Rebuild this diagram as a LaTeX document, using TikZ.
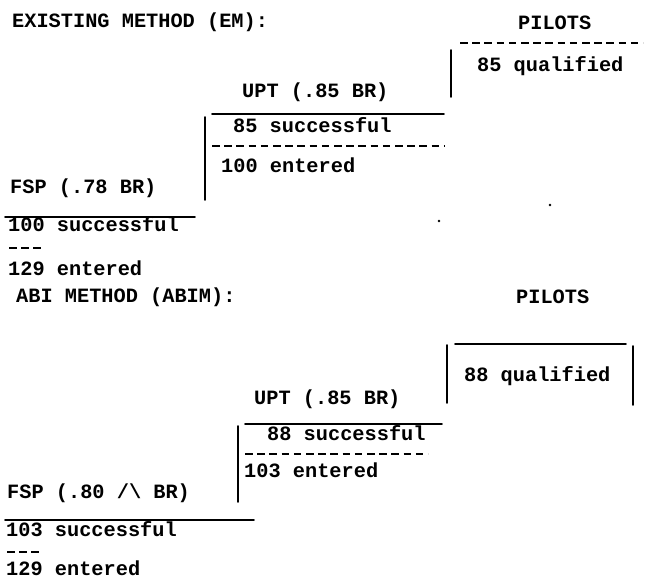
\documentclass[tikz,border=0pt]{standalone}
\usepackage{fontspec}
\newfontfamily\twfont{Liberation Mono}
\begin{document}
\begin{tikzpicture}[x=1pt,y=-1pt,
  txt/.style={anchor=base west, inner sep=0pt, font=\twfont\bfseries\fontsize{20.3}{24}\selectfont},
  rule/.style={line width=1.6pt, line cap=round},
  typedash/.style={line width=1.8pt, dash pattern=on 7.6pt off 4.6pt},
  speck/.style={fill=black}]
\useasboundingbox (0,0) rectangle (645,584);
% ---------------- EXISTING METHOD ----------------
\node[txt] (emtitle) at (12,27) {EXISTING METHOD (EM):};
\node[txt] (empilots) at (518,29) {PILOTS};
\node[txt] (emqual) at (477,71) {85 qualified};
\node[txt] (emupt) at (242,97) {UPT (.85 BR)};
\node[txt] (emusucc) at (233,132) {85 successful};
\node[txt] (emuent) at (221,172) {100 entered};
\node[txt] (emfsp) at (10,193) {FSP (.78 BR)};
\node[txt] (emfsucc) at (8,231) {100 successful};
\node[txt] (emfent) at (8,275) {129 entered};
\draw[typedash] (460,43) -- (643,43);
\draw[typedash] (212,146) -- (444,146);
\draw[typedash] (9,248) -- (42,248);
\draw[rule] (451,50) -- (451,97);
\draw[rule] (212,114) -- (444,114);
\draw[rule] (205,117) -- (205,200);
\draw[rule] (5,217) -- (195,217);
\fill[speck] (439,221) circle (1.3);
\fill[speck] (550,205) circle (1.3);
% ---------------- ABI METHOD ----------------
\node[txt] (abtitle) at (16,302) {ABI METHOD (ABIM):};
\node[txt] (abpilots) at (516,303) {PILOTS};
\node[txt] (abqual) at (464,381) {88 qualified};
\node[txt] (abupt) at (254,404) {UPT (.85 BR)};
\node[txt] (abusucc) at (267,440) {88 successful};
\node[txt] (abuent) at (244,477) {103 entered};
\node[txt] (abfsp) at (7,498) {FSP (.80 /\textbackslash\ BR)};
\node[txt] (abfsucc) at (6,536) {103 successful};
\node[txt] (abfent) at (6,575) {129 entered};
\draw[typedash] (245,454) -- (428,454);
\draw[typedash] (7,552) -- (40,552);
\draw[rule] (455,344) -- (626,344);
\draw[rule] (447,345) -- (447,403);
\draw[rule] (633,346) -- (633,405);
\draw[rule] (245,424) -- (442,424);
\draw[rule] (238,426) -- (238,502);
\draw[rule] (5,520) -- (254,520);
\end{tikzpicture}
\end{document}
